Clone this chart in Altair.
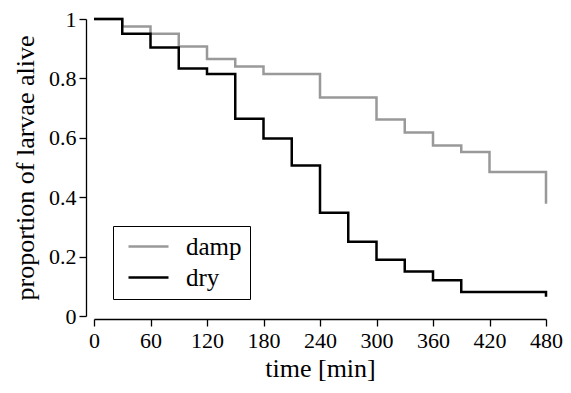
import altair as alt
import pandas as pd

times = [0, 30, 60, 90, 120, 150, 180, 210, 240, 270, 300, 330, 360, 390, 420, 450, 480]
damp = [1.0, 0.975, 0.95, 0.907, 0.865, 0.84, 0.815, 0.815, 0.736, 0.736, 0.662, 0.618,
        0.574, 0.552, 0.485, 0.485, 0.378]
dry = [1.0, 0.95, 0.904, 0.833, 0.815, 0.664, 0.598, 0.507, 0.348, 0.25, 0.189, 0.15,
       0.12, 0.081, 0.081, 0.081, 0.065]
groups = ["damp", "dry"]
colors = ["#999999", "#000000"]
x_ticks = [0, 60, 120, 180, 240, 300, 360, 420, 480]
y_ticks = [0, 0.2, 0.4, 0.6, 0.8, 1]

rows = []
for t, a, b in zip(times, damp, dry):
    rows.append({"time": t, "p": a, "group": "damp"})
    rows.append({"time": t, "p": b, "group": "dry"})
df = pd.DataFrame(rows)

FONT = "Times New Roman, Liberation Serif, serif"

chart = alt.Chart(df).mark_line(interpolate="step-after", strokeWidth=2.5).encode(
    x=alt.X("time:Q", scale=alt.Scale(domain=[0, 480], nice=False),
            axis=alt.Axis(values=x_ticks, title="time [min]", offset=3, grid=False,
                          labelFlush=False, titlePadding=4, labelPadding=4)),
    y=alt.Y("p:Q", scale=alt.Scale(domain=[0, 1], nice=False),
            axis=alt.Axis(values=y_ticks, format="~g", title="proportion of larvae alive",
                          offset=8, grid=False, titlePadding=10, labelPadding=3)),
    color=alt.Color("group:N", scale=alt.Scale(domain=groups, range=colors),
                    legend=alt.Legend(title=None, orient="none", legendX=19, legendY=207,
                                      symbolType="M-2,0H2", symbolSize=400,
                                      symbolStrokeWidth=2.5, strokeColor="black",
                                      padding=8, symbolOffset=15, labelFontSize=25,
                                      labelFont=FONT, labelColor="black", rowPadding=5,
                                      labelOffset=25)),
).properties(
    width=452, height=297,
    autosize=alt.AutoSizeParams(type="none"),
    padding={"left": 86, "top": 11, "right": 17, "bottom": 77},
).configure_view(stroke=None).configure_axis(
    domainColor="black", tickColor="black", labelColor="black", titleColor="black",
    labelFont=FONT, titleFont=FONT, labelFontSize=22, titleFontSize=26,
    titleFontWeight="normal", tickSize=7, domainWidth=1.3, tickWidth=1.3,
)

chart.save("out.html", embed_options={"renderer": "svg", "actions": False})
